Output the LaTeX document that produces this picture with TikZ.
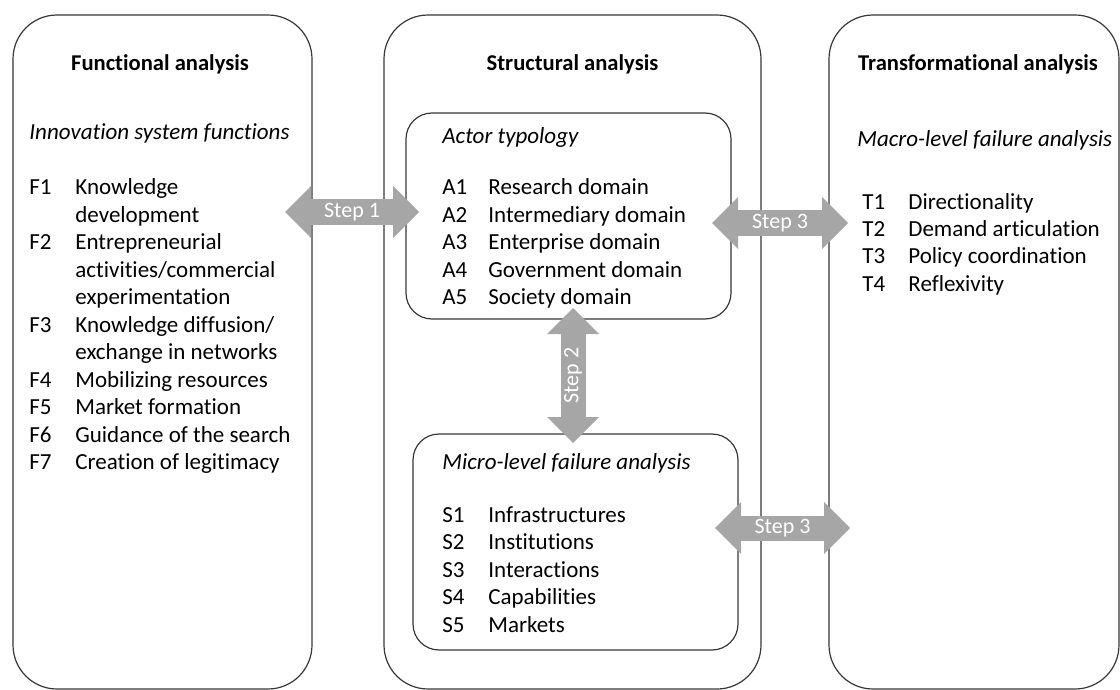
\documentclass[tikz,border=0pt]{standalone}
\usepackage{fontspec}
\setmainfont{Carlito}[RawFeature={-liga;-clig;-calt;-dlig}]
\usepackage{tikz}
\usetikzlibrary{arrows.meta}
\definecolor{stepgray}{RGB}{166,166,166}
\definecolor{framegray}{RGB}{55,55,55}

\begin{document}
\begin{tikzpicture}[x=0.5pt, y=-0.5pt,
		panel/.style={draw=framegray, line width=0.6pt, rounded corners=22pt, inner sep=0pt},
		subpanel/.style={draw=framegray, line width=0.6pt, rounded corners=13pt, inner sep=0pt},
		heading/.style={font=\fontsize{11.3}{13.75}\selectfont\bfseries, anchor=base, inner sep=0pt},
		caption/.style={font=\fontsize{11.5}{13.75}\selectfont\itshape, anchor=base west, inner sep=0pt},
		itemlist/.style={font=\fontsize{11.5}{13.75}\selectfont, anchor=base west, inner sep=0pt},
		steparrow/.style={draw=stepgray, line width=12.5pt,
			{Triangle[length=13pt, width=26pt, line width=0pt]}-{Triangle[length=13pt, width=26pt, line width=0pt]}},
		steplabel/.style={text=white, font=\fontsize{11}{12}\selectfont, inner sep=0pt}]
			\useasboundingbox (0, 0) rectangle (1120, 690);
			% Panels:
			\node[panel, minimum width=149.5pt, minimum height=337pt] (functional) at (162.5, 352){};
			\node[panel, minimum width=188.5pt, minimum height=337pt] (structural) at (572.5, 352){};
			\node[panel, minimum width=145pt, minimum height=337pt] (transformational) at (974, 352){};
			\node[subpanel, minimum width=162.5pt, minimum height=103pt] (actors) at (568.5, 216){};
			\node[subpanel, minimum width=162.5pt, minimum height=108pt] (micro) at (575.5, 542){};
			% Headings and captions:
			\node[heading] (funchead) at (160, 71){Functional analysis};
			\node[heading] (structhead) at (572.5, 71){Structural analysis};
			\node[heading] (transhead) at (978, 71){Transformational analysis};
			\node[caption] (funccap) at (29, 140){Innovation system functions};
			\node[caption] (actorcap) at (442, 144){Actor typology};
			\node[caption] (microcap) at (442, 469){Micro-level failure analysis};
			\node[caption] (macrocap) at (857, 147){Macro-level failure analysis};
			% Lists:
			\node[itemlist] (flist) at (29, 195){\begin{tabular}[t]{@{}p{23pt}@{}l@{}}
				F1 & Knowledge\\ & development\\
				F2 & Entrepreneurial\\ & activities/commercial\\ & experimentation\\
				F3 & Knowledge diffusion/\\ & exchange in networks\\
				F4 & Mobilizing resources\\
				F5 & Market formation\\
				F6 & Guidance of the search\\
				F7 & Creation of legitimacy
			\end{tabular}};
			\node[itemlist] (alist) at (442, 195){\begin{tabular}[t]{@{}p{23pt}@{}l@{}}
				A1 & Research domain\\
				A2 & Intermediary domain\\
				A3 & Enterprise domain\\
				A4 & Government domain\\
				A5 & Society domain
			\end{tabular}};
			\node[itemlist] (slist) at (442, 522){\begin{tabular}[t]{@{}p{23pt}@{}l@{}}
				S1 & Infrastructures\\
				S2 & Institutions\\
				S3 & Interactions\\
				S4 & Capabilities\\
				S5 & Markets
			\end{tabular}};
			\node[itemlist] (tlist) at (862, 209){\begin{tabular}[t]{@{}p{23pt}@{}l@{}}
				T1 & Directionality\\
				T2 & Demand articulation\\
				T3 & Policy coordination\\
				T4 & Reflexivity
			\end{tabular}};
			% Steps:
			\coordinate (s1l) at (285, 212);
			\coordinate (s1r) at (419, 212);
			\coordinate (s2t) at (573, 308);
			\coordinate (s2b) at (573, 443);
			\coordinate (s3l) at (712, 223);
			\coordinate (s3r) at (848, 223);
			\coordinate (s4l) at (715, 528);
			\coordinate (s4r) at (850, 528);
			\draw[steparrow] (s1l) -- (s1r) node[midway, steplabel] (step1){Step 1};
			\draw[steparrow] (s2t) -- (s2b) node[midway, steplabel, rotate=90] (step2){Step 2};
			\draw[steparrow] (s3l) -- (s3r) node[midway, steplabel] (step3a){Step 3};
			\draw[steparrow] (s4l) -- (s4r) node[midway, steplabel] (step3b){Step 3};
		\end{tikzpicture}
\end{document}
